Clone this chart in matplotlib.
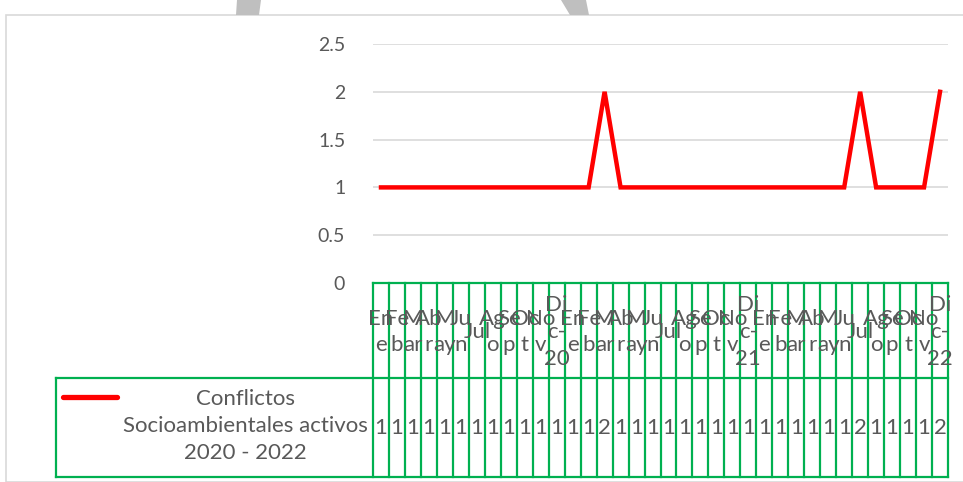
import matplotlib
matplotlib.use("Agg")
import matplotlib.pyplot as plt
from matplotlib.patches import Polygon, Rectangle

plt.rcParams["font.family"] = ["Lato", "DejaVu Sans"]

# Monthly labels as they wrap inside the narrow data-table columns
MONTHS = ["En\ne", "Fe\nb", "M\nar", "Ab\nr", "M\nay", "Ju\nn",
          "Jul", "Ag\no", "Se\np", "Oc\nt", "No\nv"]
YEARS = ["20", "21", "22"]
categories = []
for yy in YEARS:
    categories += MONTHS + [f"Di\nc-\n{yy}"]

values = [1, 1, 1, 1, 1, 1, 1, 1, 1, 1, 1, 1,
          1, 1, 2, 1, 1, 1, 1, 1, 1, 1, 1, 1,
          1, 1, 1, 1, 1, 1, 2, 1, 1, 1, 1, 2]
series_name = "Conflictos\nSocioambientales activos\n2020 - 2022"
yticks = [0, 0.5, 1, 1.5, 2, 2.5]
ytick_labels = ["0", "0.5", "1", "1.5", "2", "2.5"]

W, H = 963, 482
RED = "#FF0000"
GREEN = "#00B050"
GRID = "#D9D9D9"
TXT = "#595959"
FS_AX = 14
FS_TAB = 16


def main():
    fig = plt.figure(figsize=(W / 100, H / 100), dpi=100)

    # chart-area border and a fragment of the page watermark above it
    fig.add_artist(Rectangle((6 / W, 0), 1.0, 1 - 15 / H, transform=fig.transFigure,
                             fill=False, edgecolor=GRID, lw=1.2, clip_on=False))
    for pts in [[(237, 0), (261, 0), (259, 15), (236, 15)],
                [(561, 0), (586, 0), (589, 15), (570, 15)]]:
        fig.add_artist(Polygon([(px / W, 1 - py / H) for px, py in pts],
                               closed=True, transform=fig.transFigure,
                               facecolor="#BFBFBF", edgecolor="none"))

    n = len(values)
    x = [i + 0.5 for i in range(n)]

    ax = fig.add_axes([373 / W, 1 - 283 / H, 575 / W, (283 - 44) / H])
    ax.plot(x, values, color=RED, lw=3.2, solid_joinstyle="miter", zorder=3)
    ax.set_xlim(0, n)
    ax.set_ylim(0, 2.5)
    ax.set_yticks(yticks)
    ax.set_yticklabels(ytick_labels, fontsize=FS_AX, color=TXT)
    ax.tick_params(axis="y", length=0, pad=20)
    ax.set_xticks([])
    for s in ax.spines.values():
        s.set_visible(False)
    for yv in yticks[1:]:
        ax.axhline(yv, color=GRID, lw=1.2, zorder=1)

    # data table below the plot
    unit = 575 / n  # pixels per column
    legend_units = (373 - 56) / unit
    tab = fig.add_axes([56 / W, 1 - 477 / H, (948 - 56) / W, (477 - 283) / H])
    tab.set_xlim(-legend_units, n)
    tab.set_ylim(0, 1)
    tab.axis("off")
    split = 1 - (378 - 283) / (477 - 283)
    lk = dict(color=GREEN, lw=1.6, clip_on=False)
    tab.plot([0, n], [1, 1], **lk)
    tab.plot([-legend_units, n], [split, split], **lk)
    tab.plot([-legend_units, n], [0, 0], **lk)
    tab.plot([-legend_units, -legend_units], [0, split], **lk)
    for k in range(n + 1):
        tab.plot([k, k], [0, 1], **lk)

    head_y = 1 - (332 - 283) / (477 - 283)
    for i, lab in enumerate(categories):
        tab.text(i + 0.5, head_y, lab, ha="center", va="center", fontsize=FS_TAB,
                 color=TXT, linespacing=1.42, multialignment="center")
    val_y = 1 - (428 - 283) / (477 - 283)
    for i, v in enumerate(values):
        tab.text(i + 0.5, val_y, str(v), ha="center", va="center",
                 fontsize=FS_TAB, color=TXT)

    # legend key + series name in the left cell
    key_x0 = -legend_units + (63 - 56) / unit
    key_x1 = -legend_units + (117 - 56) / unit
    key_y = 1 - (397 - 283) / (477 - 283)
    tab.plot([key_x0, key_x1], [key_y, key_y], color=RED, lw=3.8, solid_capstyle="round")
    name_x = -legend_units + (245 - 56) / unit
    tab.text(name_x, 1 - (426 - 283) / (477 - 283), series_name, ha="center",
             va="center", fontsize=FS_TAB, color=TXT, linespacing=1.42,
             multialignment="center")

    fig.savefig("out.png", dpi=100)
    plt.close(fig)


if __name__ == "__main__":
    main()
